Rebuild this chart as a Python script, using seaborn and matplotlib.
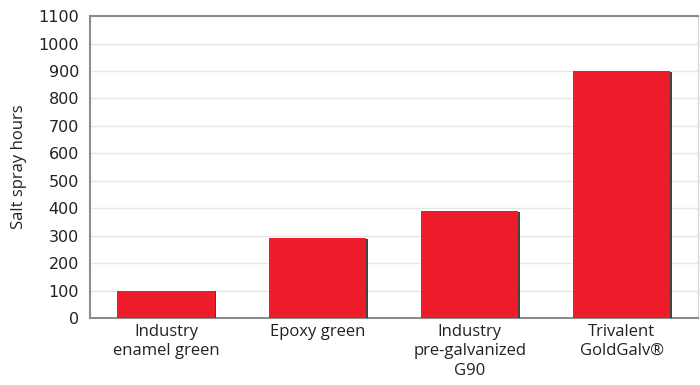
import numpy as np
import pandas as pd
import matplotlib
matplotlib.use('Agg')
import matplotlib.pyplot as plt
import matplotlib.patheffects as pe
import seaborn as sns

# --- Daten ---
categories = ['Industry\nenamel green', 'Epoxy green',
              'Industry\npre-galvanized\nG90', 'Trivalent\nGoldGalv\u00ae']
hours = [100, 290, 390, 900]
y_ticks = list(range(0, 1101, 100))

df = pd.DataFrame({'coating': categories, 'hours': hours})

sns.set_style('white')
plt.rcParams['font.family'] = ['DejaVu Sans']

fig = plt.figure(figsize=(7, 3.85), dpi=100)
ax = fig.add_axes([0.1286, 0.174, 0.868, 0.784])

sns.barplot(data=df, x='coating', y='hours', color='#ed1c2b', saturation=1,
            width=0.64, ax=ax, zorder=3)

# Schatten rechts an den Balken
for bar in ax.patches:
    bar.set_edgecolor('none')
    bar.set_path_effects([pe.SimplePatchShadow(offset=(1.3, -0.4), shadow_rgbFace='#222222', alpha=0.85),
                          pe.Normal()])

ax.set_ylim(0, 1100)
ax.set_xlim(-0.5, 3.5)
ax.set_yticks(y_ticks)
ax.set_yticklabels([str(t) for t in y_ticks], fontsize=11.5, color='#222222')
ax.yaxis.grid(True, color='#e6e6e6', linewidth=1, zorder=0)
ax.set_axisbelow(True)

ax.set_xticks(range(len(categories)))
ax.set_xticklabels(categories, fontsize=12, family=['Open Sans', 'DejaVu Sans'],
                   color='#222222', linespacing=1.3)
ax.set_xticks(np.arange(-0.5, 3.6, 1), minor=True)
ax.tick_params(axis='x', which='major', length=0, pad=4)
ax.tick_params(axis='x', which='minor', length=4, color='#bbbbbb', width=1)
ax.tick_params(axis='y', length=4, color='#bbbbbb', width=1, pad=4)

ax.set_xlabel('')
ax.set_ylabel('Salt spray hours', fontsize=12, family=['Open Sans', 'DejaVu Sans'],
              color='#222222', labelpad=8)

for side in ['left', 'bottom', 'top']:
    ax.spines[side].set_color('#8c8c8c')
    ax.spines[side].set_linewidth(1.5)
ax.spines['right'].set_color('#d9d9d9')
ax.spines['right'].set_linewidth(1)

fig.savefig('out.png', dpi=100)
